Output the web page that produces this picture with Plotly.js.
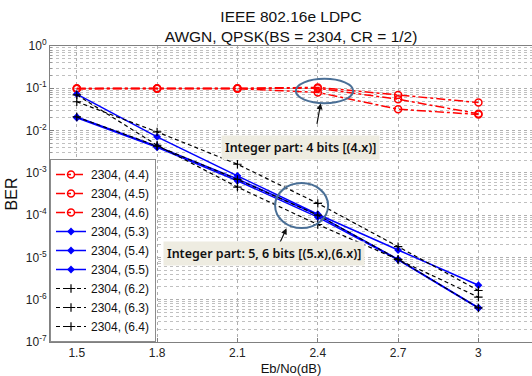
<!DOCTYPE html>
<html>
<head>
<meta charset="utf-8">
<script src="https://cdn.plot.ly/plotly-3.0.1.min.js"></script>
<style>html,body{margin:0;padding:0;background:#fff;}#chart{width:532px;height:376px;}</style>
</head>
<body>
<div id="chart"></div>
<script>
// Eb/No points (dB)
const ebno = [1.5, 1.8, 2.1, 2.4, 2.7, 3.0];

// BER per fixed-point format, block size 2304
const ber44 = [0.100, 0.100, 0.100, 0.105, 0.069, 0.046];
const ber45 = [0.098, 0.099, 0.099, 0.100, 0.055, 0.025];
const ber46 = [0.097, 0.098, 0.098, 0.080, 0.032, 0.024];

const ber53 = [0.073, 0.0071, 8.5e-4, 1.05e-4, 1.5e-5, 2.2e-6];
const ber54 = [0.021, 0.0042, 7.2e-4, 1.0e-4, 9.0e-6, 6.5e-7];
const ber55 = [0.020, 0.0040, 6.5e-4, 9.0e-5, 8.8e-6, 6.3e-7];

const ber62 = [0.048, 0.0093, 1.6e-3, 1.9e-4, 1.8e-5, 1.65e-6];
const ber63 = [0.070, 0.0045, 4.6e-4, 6.0e-5, 8.9e-6, 1.15e-6];
const ber64 = [0.021, 0.0043, 7.0e-4, 1.0e-4, 9.0e-6, 6.4e-7];

const seriesNames = ['2304, (4.4)', '2304, (4.5)', '2304, (4.6)',
                     '2304, (5.3)', '2304, (5.4)', '2304, (5.5)',
                     '2304, (6.2)', '2304, (6.3)', '2304, (6.4)'];
const seriesData = [ber44, ber45, ber46, ber53, ber54, ber55, ber62, ber63, ber64];

const xTicks = [1.5, 1.8, 2.1, 2.4, 2.7, 3];
const xTickText = ['1.5', '1.8', '2.1', '2.4', '2.7', '3'];
const yTicks = [1e-7, 1e-6, 1e-5, 1e-4, 1e-3, 1e-2, 1e-1, 1];
const yTickText = ['10<sup>-7</sup>', '10<sup>-6</sup>', '10<sup>-5</sup>', '10<sup>-4</sup>',
                   '10<sup>-3</sup>', '10<sup>-2</sup>', '10<sup>-1</sup>', '10<sup>0</sup>'];

// line style per integer-part group
function styleFor(i) {
  if (i < 3) {
    return {line: {color: '#ff0000', width: 1.5, dash: 'dashdot'},
            marker: {symbol: 'circle-open', size: 7, color: '#ff0000', line: {width: 1.5, color: '#ff0000'}}};
  } else if (i < 6) {
    return {line: {color: '#0000ff', width: 1.5, dash: 'solid'},
            marker: {symbol: 'diamond', size: 6, color: '#0000ff'}};
  }
  return {line: {color: '#000000', width: 1.2, dash: '4px,3px'},
          marker: {symbol: 'cross-thin', size: 6, color: '#000000', line: {width: 1.2, color: '#000000'}}};
}

const traces = seriesData.map((ys, i) => Object.assign({
  type: 'scatter', mode: 'lines+markers', x: ebno, y: ys, name: seriesNames[i]
}, styleFor(i)));

const gridColor = '#b0b0b0';
const sans = 'Liberation Sans, Arial, sans-serif';
const axisFont = {family: sans, size: 12, color: '#222'};
const boxFont = {family: 'Noto Sans, sans-serif', size: 12.5, color: '#111', weight: 600};

const layout = {
  width: 532, height: 376,
  margin: {l: 50, r: 0, t: 46, b: 34},
  paper_bgcolor: '#ffffff', plot_bgcolor: '#ffffff',
  showlegend: true,
  title: {
    text: 'IEEE 802.16e LDPC<br>AWGN, QPSK(BS = 2304, CR = 1/2)',
    font: {family: sans, size: 15.5, color: '#111'},
    x: 0.5, xref: 'paper', xanchor: 'center',
    y: 0.942, yref: 'container', yanchor: 'top'
  },
  xaxis: {
    range: [1.4, 3.2], tickvals: xTicks, ticktext: xTickText,
    showgrid: true, gridcolor: gridColor, griddash: 'dot', gridwidth: 1,
    showline: true, linecolor: '#808080', mirror: true,
    ticks: 'inside', ticklen: 4, tickcolor: '#808080',
    zeroline: false, tickfont: axisFont,
    title: {text: 'Eb/No(dB)', font: {family: sans, size: 13, color: '#111'}, standoff: 6}
  },
  yaxis: {
    type: 'log', range: [-7, 0], tickvals: yTicks, ticktext: yTickText,
    showgrid: true, gridcolor: gridColor, griddash: 'dot', gridwidth: 1,
    minor: {showgrid: true, gridcolor: '#c0c0c0', griddash: 'dot', dtick: 'D1', ticks: 'inside', ticklen: 2, tickcolor: '#999'},
    showline: true, linecolor: '#808080', mirror: true,
    ticks: 'inside', ticklen: 4, tickcolor: '#808080',
    zeroline: false, tickfont: axisFont,
    title: {text: 'BER', font: {family: sans, size: 16, color: '#111'}, standoff: 4}
  },
  legend: {
    x: 0, y: 0, xanchor: 'left', yanchor: 'bottom',
    bgcolor: '#ffffff', bordercolor: '#8c8c8c', borderwidth: 1,
    font: {family: sans, size: 12, color: '#111'},
    tracegroupgap: 0, itemwidth: 30
  },
  shapes: [
    {type: 'circle', xref: 'paper', yref: 'paper', x0: 0.510, x1: 0.629, y0: 0.807, y1: 0.889,
     line: {color: '#4a6f96', width: 2}},
    {type: 'circle', xref: 'paper', yref: 'paper', x0: 0.467, x1: 0.577, y0: 0.385, y1: 0.537,
     line: {color: '#4a6f96', width: 2}}
  ],
  annotations: [
    {xref: 'paper', yref: 'paper', x: 0.5616, y: 0.806, text: '', showarrow: true,
     axref: 'pixel', ayref: 'pixel', ax: -4, ay: 22, arrowhead: 2, arrowsize: 1, arrowwidth: 1.2, arrowcolor: '#111'},
    {xref: 'paper', yref: 'paper', x: 0.4907, y: 0.384, text: '', showarrow: true,
     axref: 'pixel', ayref: 'pixel', ax: -12, ay: 26, arrowhead: 2, arrowsize: 1, arrowwidth: 1.2, arrowcolor: '#111'},
    {xref: 'paper', yref: 'paper', x: 0.519, y: 0.699, text: 'Integer part: 4 bits [(4.x)]',
     showarrow: false, bgcolor: '#eeece1', borderpad: 3, font: boxFont},
    {xref: 'paper', yref: 'paper', x: 0.443, y: 0.257, text: 'Integer part: 5, 6 bits [(5.x),(6.x)]',
     showarrow: false, bgcolor: '#eeece1', borderpad: 3, font: boxFont}
  ]
};

Plotly.newPlot('chart', traces, layout, {displayModeBar: false, staticPlot: true});
</script>
</body>
</html>
